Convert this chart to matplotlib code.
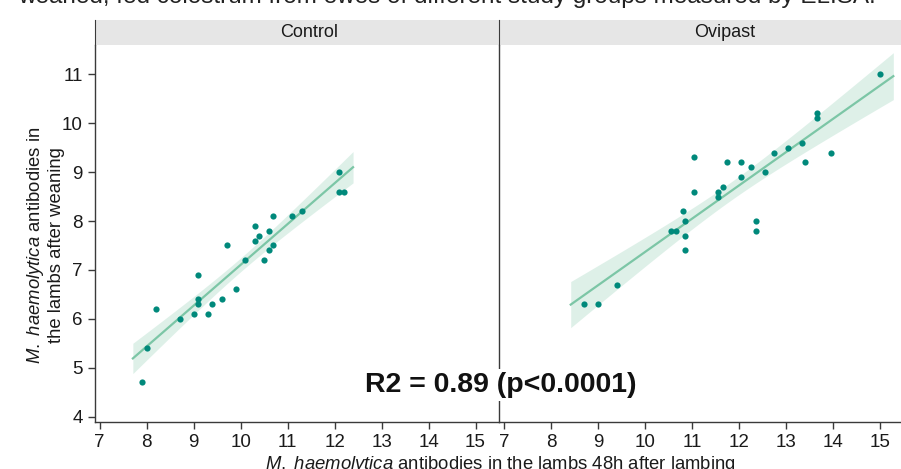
import numpy as np
from matplotlib import pyplot as plt

plt.rcParams['font.family'] = ['Liberation Sans', 'DejaVu Sans']
plt.rcParams['mathtext.fontset'] = 'custom'
plt.rcParams['mathtext.it'] = 'Liberation Sans:italic'
plt.rcParams['mathtext.rm'] = 'Liberation Sans'

groups = ['Control', 'Ovipast']

control_x = [7.9, 8.0, 8.2, 8.7, 9.0, 9.1, 9.1, 9.1, 9.3, 9.4, 9.6, 9.7, 9.9, 10.1,
             10.3, 10.3, 10.4, 10.5, 10.6, 10.6, 10.7, 10.7, 11.1, 11.3, 12.1, 12.1, 12.2]
control_y = [4.7, 5.4, 6.2, 6.0, 6.1, 6.9, 6.4, 6.3, 6.1, 6.3, 6.4, 7.5, 6.6, 7.2,
             7.9, 7.6, 7.7, 7.2, 7.8, 7.4, 8.1, 7.5, 8.1, 8.2, 9.0, 8.6, 8.6]

ovipast_x = [8.7, 9.0, 9.4, 10.55, 10.65, 10.8, 10.85, 10.85, 10.85, 11.05, 11.05,
             11.55, 11.55, 11.65, 11.75, 12.05, 12.05, 12.25, 12.35, 12.35, 12.55,
             12.75, 13.05, 13.35, 13.4, 13.65, 13.65, 13.95, 15.0]
ovipast_y = [6.3, 6.3, 6.7, 7.8, 7.8, 8.2, 8.0, 7.7, 7.4, 9.3, 8.6,
             8.6, 8.5, 8.7, 9.2, 9.2, 8.9, 9.1, 8.0, 7.8, 9.0,
             9.4, 9.5, 9.6, 9.2, 10.2, 10.1, 9.4, 11.0]

# t critical values (95%, n-2 dof)
t_crit = {'Control': 2.060, 'Ovipast': 2.052}

x_ticks = list(range(7, 16))
y_ticks = list(range(4, 12))
r2_text = 'R2 = 0.89 (p<0.0001)'
x_label = r'$\it{M.\ haemolytica}$ antibodies in the lambs 48h after lambing'
y_label = r'$\it{M.\ haemolytica}$ antibodies in' + '\n' + 'the lambs after weaning'
caption = 'weaned, fed colostrum from ewes of different study groups measured by ELISA.'

pt_col = '#00897b'
line_col = '#7cc6a6'
band_col = '#d6ede3'
axis_col = '#3a3a3a'

W, H = 901, 469
fig = plt.figure(dpi=100, figsize=(W / 100, H / 100))

def fx(px):
    return px / W

def fy(py):
    return 1 - py / H

data = {'Control': (control_x, control_y), 'Ovipast': (ovipast_x, ovipast_y)}
lefts = [94.5, 499]
panel_w = 404.5
top, bottom = 45, 422
label_pos = [0.53, 0.558]

for i, g in enumerate(groups):
    ax = fig.add_axes([fx(lefts[i]), fy(bottom), panel_w / W, (bottom - top) / H])
    xs = np.array(data[g][0])
    ys = np.array(data[g][1])
    slope, icpt = np.polyfit(xs, ys, 1)
    n = len(xs)
    resid = ys - (slope * xs + icpt)
    s = np.sqrt(np.sum(resid ** 2) / (n - 2))
    sxx = np.sum((xs - xs.mean()) ** 2)
    pad = 0.045 * (xs.max() - xs.min())
    xl = np.linspace(xs.min() - pad, xs.max() + pad, 100)
    yl = slope * xl + icpt
    se = s * np.sqrt(1 / n + (xl - xs.mean()) ** 2 / sxx)
    ax.fill_between(xl, yl - t_crit[g] * se, yl + t_crit[g] * se, color=band_col,
                    alpha=0.8, lw=0, zorder=1)
    ax.plot(xl, yl, color=line_col, lw=1.6, zorder=2)
    ax.scatter(xs, ys, s=20, color=pt_col, lw=0, zorder=3)

    ax.set_xlim(6.89, 15.5)
    ax.set_ylim(3.89, 11.6)
    ax.set_xticks(x_ticks)
    ax.set_yticks(y_ticks)
    ax.tick_params(colors=axis_col, labelcolor='#1a1a1a', labelsize=13.5, length=5,
                   width=1, direction='out')
    for side in ['top', 'right']:
        ax.spines[side].set_visible(False)
    for side in ['left', 'bottom']:
        ax.spines[side].set_color(axis_col)
        ax.spines[side].set_linewidth(1)
    if i == 1:
        ax.tick_params(axis='y', left=False, labelleft=False)
    ax.patch.set_alpha(0)

    strip = fig.add_axes([fx(lefts[i]), fy(top), panel_w / W, 25 / H])
    strip.set_facecolor('#e6e6e6')
    strip.set_xticks([])
    strip.set_yticks([])
    for side in ['top', 'right', 'bottom']:
        strip.spines[side].set_visible(False)
    strip.spines['left'].set_color(axis_col)
    strip.text(label_pos[i], 0.5, g, ha='center', va='center', fontsize=13,
               color='#1a1a1a', transform=strip.transAxes)

fig.text(fx(501), fy(385), r2_text, ha='center', va='center', fontsize=20.5,
         fontweight='bold', color='#111111',
         bbox=dict(facecolor='white', edgecolor='none', pad=2))
fig.text(fx(500), fy(454), x_label, ha='center', va='top', fontsize=13.3, color='#1a1a1a')
fig.text(fx(45), fy(245), y_label, ha='center', va='center', rotation=90,
         fontsize=13.3, color='#1a1a1a', linespacing=1.1)
fig.text(fx(18), fy(3), caption, ha='left', va='baseline', fontsize=17.5, color='#222222')

fig.savefig('out.png')
